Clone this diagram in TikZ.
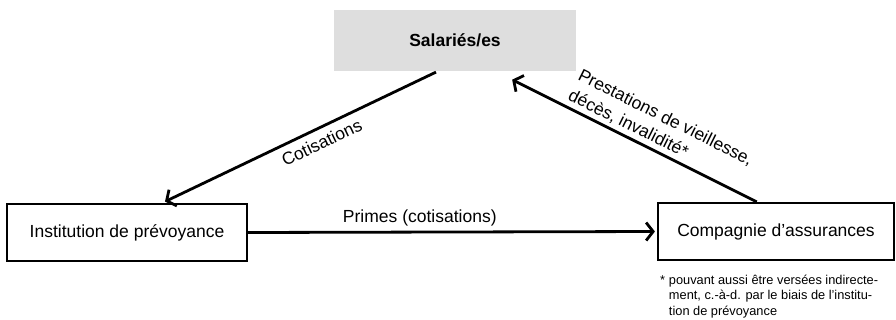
\documentclass[tikz,border=0pt]{standalone}
\usepackage{fontspec}
\setmainfont{Liberation Sans}
\usetikzlibrary{arrows.meta}

\definecolor{boxgrey}{HTML}{DEDEDE}

\begin{document}
\begin{tikzpicture}[%
        > = {Straight Barb[length = 7pt, width = 18pt]},
        x = 1pt,
        y = -1pt,
        line width = 2.2pt,
        every node/.style = {font = \fontsize{17.5}{22}\selectfont},
        box/.style = {draw, rectangle, minimum height = 57pt, inner sep = 0pt},
        flow/.style = {->, line width = 2.8pt}
    ]

        % Fix the size of the picture.
        \useasboundingbox (0, 0) rectangle (896, 320);

        % The three parties.
        \node[fill = boxgrey, minimum width = 242pt, minimum height = 61pt]
            (salaries) at (455, 40.5) {\bfseries Salariés/es};
        \node[box, minimum width = 240pt] (institution) at (127, 232.5)
            {Institution de prévoyance};
        \node[box, minimum width = 236pt] (compagnie) at (776, 231.5)
            {Compagnie d’assurances};

        % Flows between them.
        \draw[flow, shorten > = 3pt] (salaries.239.5) to
            node [pos = 0.44, below = 3pt, sloped] {Cotisations}
            (institution.40.5);
        \draw[flow, shorten > = 2pt] (institution.east) to
            node [pos = 0.42, above = 1pt] {Primes (cotisations)}
            (compagnie.west);
        \draw[flow, shorten > = 17pt] (compagnie.123.7) to
            node [pos = 0.41, above = 0pt, sloped, align = left]
                {Prestations de vieillesse,\\décès, invalidité*}
            (salaries.-37);

        % Footnote below the insurance company.
        \node[anchor = north west, inner sep = 0pt,
              font = \fontsize{12.8}{15.5}\selectfont]
            (note) at ([xshift = 2pt, yshift = -11pt]compagnie.south west)
            {\begin{tabular}{@{}l@{\hspace{4pt}}l@{}}
                * & pouvant aussi être versées indirecte-\\
                  & ment, c.-à-d. par le biais de l’institu-\\
                  & tion de prévoyance
            \end{tabular}};
    \end{tikzpicture}
\end{document}
